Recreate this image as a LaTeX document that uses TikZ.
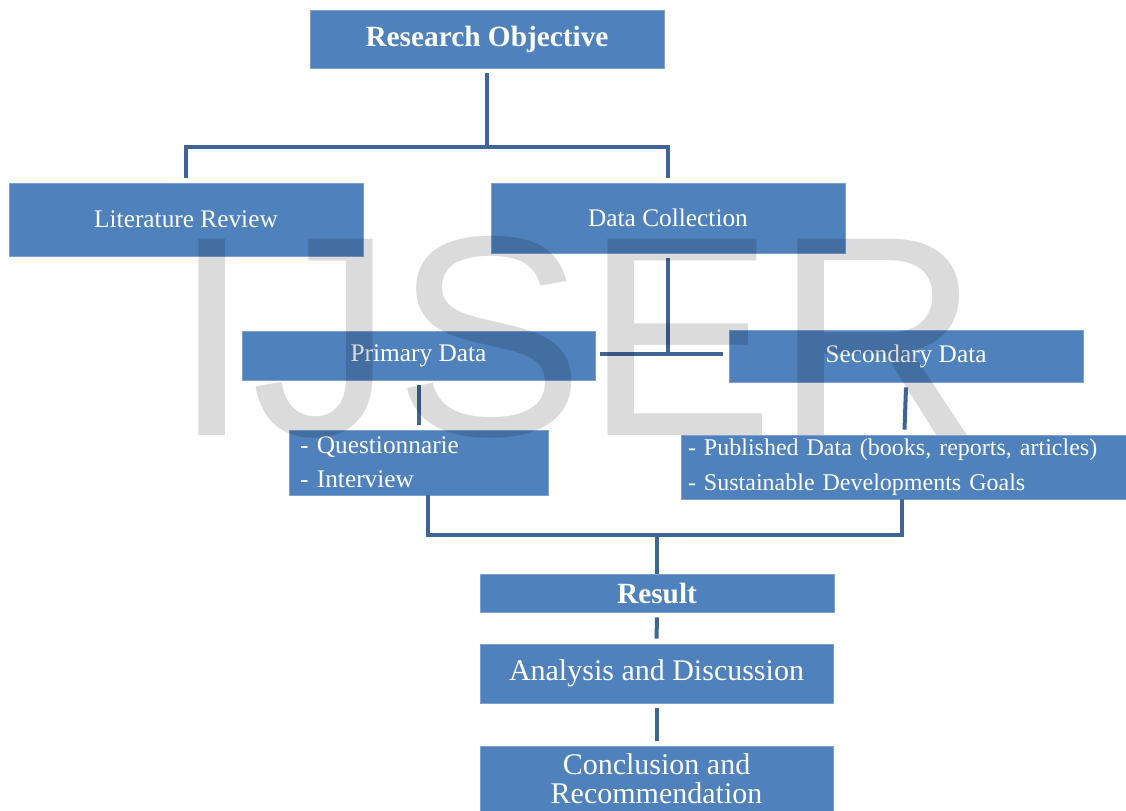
\documentclass[tikz,border=0pt]{standalone}
\usepackage{fontspec}
\setmainfont{Liberation Serif}
\newfontfamily\wmfont{Liberation Sans}
\definecolor{boxblue}{RGB}{79,129,189}
\definecolor{boxedge}{RGB}{125,160,208}
\definecolor{linkblue}{RGB}{63,100,150}
\tikzset{
  box/.style={draw=boxedge, line width=0.6pt, fill=boxblue, text=white, inner sep=0pt, align=center},
  listbox/.style={draw=boxedge, line width=0.6pt, fill=boxblue, text=white, align=left, inner ysep=0pt},
  conn/.style={draw=linkblue, line width=3pt, line join=miter},
  regtext/.style={font=\fontsize{19pt}{22pt}\selectfont},
  bigtext/.style={font=\fontsize{22.5pt}{22pt}\selectfont},
  boldtext/.style={font=\fontsize{22pt}{24pt}\selectfont\bfseries}
}
\begin{document}
\begin{tikzpicture}[x=0.75pt,y=-0.75pt]
\useasboundingbox (0,0) rectangle (1126,810);
\clip (0,0) rectangle (1126,810);

\node[box, boldtext, minimum width=265.5pt, minimum height=43.5pt] (ro) at (487,39) {Research Objective};
\node[box, regtext, minimum width=265.5pt, minimum height=54.75pt] (lr) at (186,219.5) {Literature Review};
\node[box, regtext, minimum width=265.5pt, minimum height=52.5pt] (dc) at (668,218) {Data Collection};
\node[box, regtext, minimum width=264.75pt, minimum height=36.75pt] (pd) at (418.5,355.5) {Primary Data};
\node[box, regtext, minimum width=265.5pt, minimum height=39pt] (sd) at (906,356) {Secondary Data};
\node[listbox, font=\fontsize{19pt}{25.5pt}\selectfont, inner xsep=8.25pt, text width=177.75pt, minimum height=48.75pt] (qi) at (418.5,462.5) {- Questionnarie\\- Interview};
\node[listbox, font=\fontsize{18pt}{26pt}\selectfont, inner xsep=5.25pt, text width=324.75pt, minimum height=48pt] (pub) at (904.5,467) {- Published Data (books, reports, articles)\\- Sustainable Developments Goals};
\node[box, boldtext, minimum width=265.5pt, minimum height=28.5pt] (res) at (657,593) {Result};
\node[box, bigtext, minimum width=264.75pt, minimum height=44.25pt] (ad) at (656.5,673.5) {Analysis and Discussion};
\node[box, bigtext, minimum width=264.75pt, minimum height=49.5pt] (cr) at (656.5,779) {Conclusion and\\Recommendation};

% connectors
\coordinate (j1) at (487,147);
\draw[conn] ([yshift=-3.75pt]ro.south) -- (j1);
\draw[conn] ([yshift=3.75pt]lr.north) |- (j1) -| ([yshift=3.75pt]dc.north);

\coordinate (j2) at (668,354);
\draw[conn] ([yshift=-3.75pt]dc.south) -- (j2);
\draw[conn] ([xshift=3.75pt]pd.east |- j2) -- ([xshift=-4.5pt]sd.west |- j2);

\draw[conn] ([yshift=-3.75pt]pd.south) -- ([yshift=3.75pt]qi.north);
\draw[conn] ([yshift=-3.75pt]sd.south) -- ([yshift=3.75pt]pub.north);

\coordinate (j3) at (657,535);
\draw[conn] ([xshift=7.125pt]qi.south) |- (j3) -| ([xshift=-1.875pt]pub.south);
\draw[conn] (j3) -- (res.north);
\draw[conn] ([yshift=-3.75pt]res.south) -- ([yshift=3.75pt]ad.north);
\draw[conn] ([yshift=-3.75pt]ad.south) -- ([yshift=3.75pt]cr.north);

% watermark
\node[anchor=base west, inner sep=0pt, text=black, text opacity=0.14, font=\wmfont\fontsize{214pt}{214pt}\selectfont] (wm) at (172,435) {IJSER};
\end{tikzpicture}
\end{document}
